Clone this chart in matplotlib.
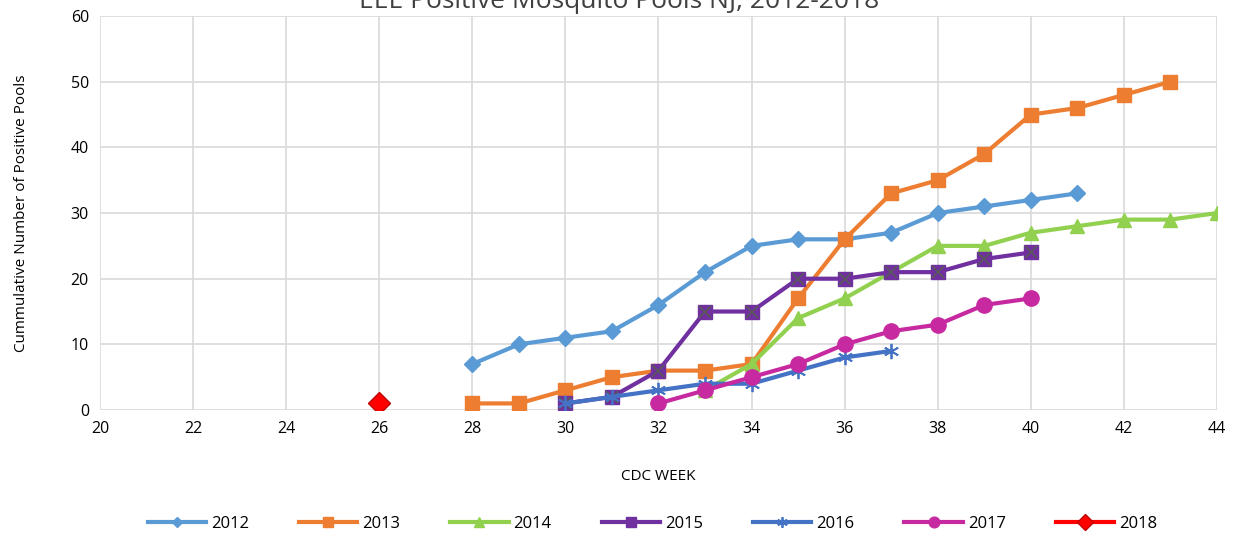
import matplotlib.pyplot as plt

plt.rcParams['font.family'] = ['Open Sans', 'DejaVu Sans']

# 数据：每年各周累计阳性蚊池数
weeks_2012 = list(range(28, 42))
vals_2012 = [7, 10, 11, 12, 16, 21, 25, 26, 26, 27, 30, 31, 32, 33]
weeks_2013 = list(range(28, 44))
vals_2013 = [1, 1, 3, 5, 6, 6, 7, 17, 26, 33, 35, 39, 45, 46, 48, 50]
weeks_2014 = list(range(33, 45))
vals_2014 = [3, 7, 14, 17, 21, 25, 25, 27, 28, 29, 29, 30]
weeks_2015 = list(range(30, 41))
vals_2015 = [1, 2, 6, 15, 15, 20, 20, 21, 21, 23, 24]
weeks_2016 = list(range(30, 38))
vals_2016 = [1, 2, 3, 4, 4, 6, 8, 9]
weeks_2017 = list(range(32, 41))
vals_2017 = [1, 3, 5, 7, 10, 12, 13, 16, 17]
weeks_2018 = [26]
vals_2018 = [1]

fig = plt.figure(figsize=(12.38, 5.37), dpi=100)
ax = fig.add_axes([0.0808, 0.2365, 0.9022, 0.7335])

lw = 3
ax.plot(weeks_2012, vals_2012, color='#5B9BD5', lw=lw, marker='D', ms=8, label='2012')
ax.plot(weeks_2013, vals_2013, color='#ED7D31', lw=lw, marker='s', ms=10, label='2013')
ax.plot(weeks_2014, vals_2014, color='#92D050', lw=lw, marker='^', ms=10, label='2014')
ax.plot(weeks_2015, vals_2015, color='#7030A0', lw=lw, marker='s', ms=10, label='2015')
ax.plot(weeks_2015, vals_2015, color='#595959', lw=0, marker='x', ms=9, mew=1.2)
ax.plot(weeks_2016, vals_2016, color='#4472C4', lw=lw, marker=(6, 2, 0), ms=11, mew=1.3,
        label='2016')
ax.plot(weeks_2017, vals_2017, color='#C72AA0', lw=lw, marker='o', ms=11, label='2017')
ax.plot(weeks_2018, vals_2018, color='#FF0000', lw=lw, marker='D', ms=11,
        markeredgecolor='#C00000', label='2018')

ax.set_xlim(20, 44)
ax.set_ylim(0, 60)
ax.set_xticks(range(20, 45, 2))
ax.set_yticks(range(0, 61, 10))
ax.grid(True, color='#D9D9D9', lw=1.2)
ax.set_axisbelow(True)
for s in ax.spines.values():
    s.set_visible(False)
ax.tick_params(length=0, labelsize=11.5, pad=8, colors='#000000')

ax.set_xlabel('CDC WEEK', fontsize=11, labelpad=23)
ax.set_ylabel('Cummulative Number of Positive Pools', fontsize=11, labelpad=30)

# 标题在原图中被顶边截掉一半
fig.text(0.5, 0.998, 'EEE Positive Mosquito Pools NJ, 2012-2018', ha='center', va='center',
         fontsize=19, color='#404040')

handles, labels = ax.get_legend_handles_labels()
fig.legend(handles, labels, loc='center', bbox_to_anchor=(0.527, 0.024), ncol=7,
           frameon=False, fontsize=12, handlelength=3.5, columnspacing=3.0,
           handletextpad=0.3, markerscale=0.7)

plt.savefig('out.png', dpi=100)
